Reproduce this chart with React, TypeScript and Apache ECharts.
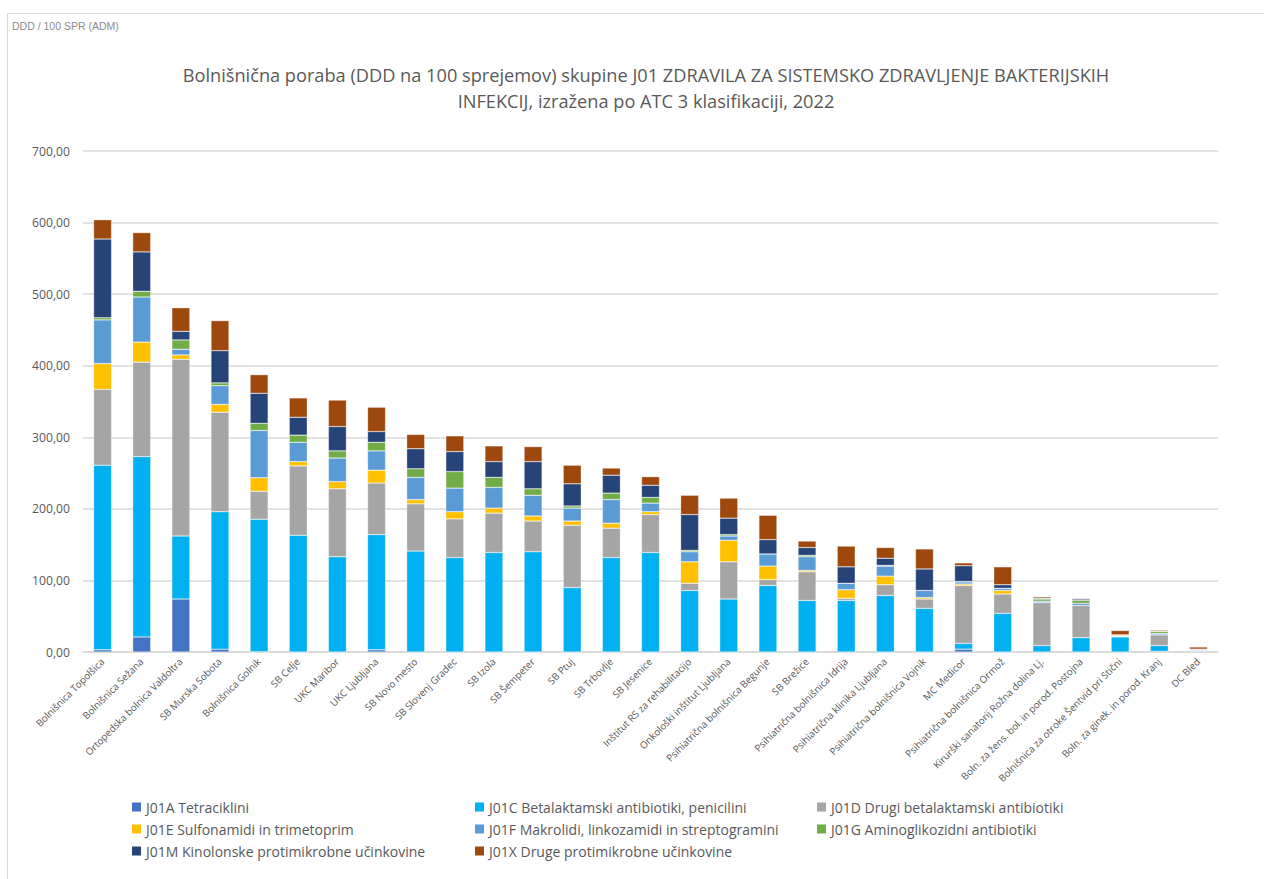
import React, { useEffect, useRef } from "react";
import * as echarts from "echarts";

const categories = [
  "Bolnišnica Topolšica", "Bolnišnica Sežana", "Ortopedska bolnica Valdoltra", "SB Murska Sobota",
  "Bolnišnica Golnik", "SB Celje", "UKC Maribor", "UKC Ljubljana", "SB Novo mesto", "SB Slovenj Gradec",
  "SB Izola", "SB Šempeter", "SB Ptuj", "SB Trbovlje", "SB Jesenice", "Inštitut RS za rehabilitacijo",
  "Onkološki inštitut Ljubljana", "Psihiatrična bolnišnica Begunje", "SB Brežice", "Psihiatrična bolnišnica Idrija",
  "Psihiatrična klinika Ljubljana", "Psihiatrična bolnišnica Vojnik", "MC Medicor", "Psihiatrična bolnišnica Ormož",
  "Kirurški sanatorij Rožna dolina Lj.", "Boln. za žens. bol. in porod. Postojna", "Bolnišnica za otroke Šentvid pri Stični",
  "Boln. za ginek. in porod. Kranj", "DC Bled",
];

const j01a = [3, 21, 74, 4, 0.5, 0, 0, 3, 0, 0, 0, 0, 0, 0, 0, 0, 0, 0, 0, 0, 0, 0, 4, 0, 0, 0, 0, 1, 1];
const j01c = [258, 252, 88, 192, 185, 163, 133, 161, 141, 132, 139, 140, 90, 132, 139, 86, 74, 93, 72, 72, 79, 61, 8, 54, 9, 20, 21, 8, 1];
const j01d = [106, 132, 247, 139, 39, 97, 95, 72, 66, 54, 55, 43, 87, 41, 53, 10, 52, 8, 40, 3, 15, 13, 81, 27, 60, 45, 1, 15, 0];
const j01e = [36, 28, 6, 11, 19, 6, 10, 18, 6, 10, 7, 7, 6, 7, 4, 30, 30, 19, 2, 12, 12, 2, 2, 5, 0, 0, 1, 0, 0];
const j01f = [61, 63, 8, 26, 66, 27, 33, 27, 31, 33, 29, 29, 18, 33, 12, 14, 6, 17, 19, 9, 14, 10, 3, 3, 2, 3, 1, 2, 1];
const j01g = [3, 8, 13, 4, 10, 10, 10, 12, 12, 23, 14, 9, 3, 9, 8, 2, 2, 0, 2, 0, 1, 0, 0.5, 0, 3, 4, 0, 3, 0];
const j01m = [110, 55, 12, 45, 42, 25, 34, 15, 28, 28, 22, 38, 31, 25, 17, 50, 23, 20, 11, 23, 10, 30, 22, 5, 1, 2, 0, 0, 1];
const j01x = [27, 27, 33, 42, 26, 27, 37, 34, 20, 22, 22, 21, 26, 10, 12, 27, 28, 34, 9, 29, 15, 28, 4, 25, 2, 1, 6, 1.5, 3];

const seriesNames = [
  "J01A Tetraciklini",
  "J01C Betalaktamski antibiotiki, penicilini",
  "J01D Drugi betalaktamski antibiotiki",
  "J01E Sulfonamidi in trimetoprim",
  "J01F Makrolidi, linkozamidi in streptogramini",
  "J01G Aminoglikozidni antibiotiki",
  "J01M Kinolonske protimikrobne učinkovine",
  "J01X Druge protimikrobne učinkovine",
];
const seriesData = [j01a, j01c, j01d, j01e, j01f, j01g, j01m, j01x];
const colors = ["#4472C4", "#00B0F0", "#A5A5A5", "#FFC000", "#5B9BD5", "#70AD47", "#264478", "#9E480E"];

const yTicks = [0, 100, 200, 300, 400, 500, 600, 700];

const FONT = "'Open Sans', 'Noto Sans', sans-serif";

export default function App() {
  const ref = useRef<HTMLDivElement>(null);
  useEffect(() => {
    if (!ref.current) return;
    const chart = echarts.init(ref.current, null, { renderer: "svg" });
    const legendText = { color: "#595959", fontSize: 14, fontFamily: FONT };
    const mkLegend = (left: number, names: string[]) => ({
      orient: "vertical",
      left,
      top: 795,
      itemWidth: 9,
      itemHeight: 9,
      itemGap: 8,
      itemStyle: { borderWidth: 0 },
      icon: "rect",
      textStyle: legendText,
      data: names,
      selectedMode: false,
    });
    chart.setOption({
      animation: false,
      color: colors,
      textStyle: { fontFamily: FONT },
      title: {
        text: "Bolnišnična poraba (DDD na 100 sprejemov) skupine J01 ZDRAVILA ZA SISTEMSKO ZDRAVLJENJE BAKTERIJSKIH\nINFEKCIJ, izražena po ATC 3 klasifikaciji, 2022",
        left: 641,
        textAlign: "center",
        top: 57,
        textStyle: { color: "#595959", fontSize: 18.2, fontWeight: "normal", lineHeight: 26, fontFamily: FONT },
      },
      graphic: [
        {
          type: "rect",
          shape: { x: 7.5, y: 13.5, width: 1270, height: 900 },
          style: { fill: "none", stroke: "#d9d9d9", lineWidth: 1 },
          silent: true,
        },
        {
          type: "text",
          left: 12,
          top: 20,
          style: { text: "DDD / 100 SPR (ADM)", fill: "#8c8c8c", fontSize: 10.5, fontFamily: "'Liberation Sans', sans-serif" },
        },
      ],
      legend: [
        mkLegend(127, [seriesNames[0], seriesNames[3], seriesNames[6]]),
        mkLegend(470, [seriesNames[1], seriesNames[4], seriesNames[7]]),
        mkLegend(812, [seriesNames[2], seriesNames[5]]),
      ],
      grid: { left: 83, right: 46, top: 151, bottom: 227, containLabel: false },
      xAxis: {
        type: "category",
        data: categories,
        axisLine: { lineStyle: { color: "#d9d9d9", width: 1.5 } },
        axisTick: { show: false },
        axisLabel: {
          interval: 0,
          rotate: 45,
          fontSize: 9.8,
          color: "#595959",
          fontFamily: FONT,
          margin: 8,
        },
      },
      yAxis: {
        type: "value",
        min: yTicks[0],
        max: yTicks[yTicks.length - 1],
        interval: 100,
        axisLine: { show: false },
        axisTick: { show: false },
        splitLine: { lineStyle: { color: "#d9d9d9", width: 1.5 } },
        axisLabel: {
          color: "#595959",
          fontSize: 12.2,
          fontFamily: FONT,
          margin: 13,
          formatter: (v: number) => v.toFixed(2).replace(".", ","),
        },
      },
      series: seriesNames.map((name, i) => ({
        name,
        type: "bar",
        stack: "total",
        barWidth: 18,
        data: seriesData[i],
        itemStyle: { color: colors[i], borderColor: "rgba(255,255,255,0.6)", borderWidth: 0.5 },
      })),
    });
    return () => chart.dispose();
  }, []);
  return <div ref={ref} style={{ width: 1264, height: 879, position: "absolute", left: 0, top: 0 }} />;
}
